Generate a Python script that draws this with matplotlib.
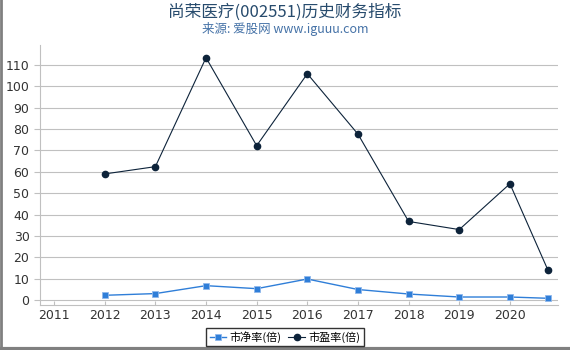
import matplotlib
matplotlib.use("Agg")
import matplotlib.pyplot as plt
from matplotlib.lines import Line2D

cjk = ['Noto Sans CJK SC', 'DejaVu Sans']
plt.rcParams['font.family'] = ['DejaVu Sans']

years = [2012, 2013, 2014, 2015, 2016, 2017, 2018, 2019, 2020, 2020.75]
pb = [2.3, 3.1, 6.8, 5.4, 9.9, 5.0, 2.9, 1.5, 1.5, 0.9]
pe = [59.0, 62.4, 113.3, 72.2, 105.8, 77.6, 36.8, 33.0, 54.4, 14.1]
xticks = [2011, 2012, 2013, 2014, 2015, 2016, 2017, 2018, 2019, 2020]
yticks = list(range(0, 111, 10))

fig = plt.figure(figsize=(5.7, 3.5), dpi=100)
ax = fig.add_axes([0.07, 0.13, 0.909, 0.74])

ax.plot(years, pb, color="#2f7ed8", lw=1, marker="s", ms=4.5,
        markeredgecolor="#8fb8ec", markeredgewidth=0.6, label="市净率(倍)")
ax.plot(years, pe, color="#0d233a", lw=0.8, marker="o", ms=4.5,
        label="市盈率(倍)")

ax.set_xlim(2010.72, 2020.95)
ax.set_ylim(-2, 119)
ax.set_xticks(xticks)
ax.set_yticks(yticks)
ax.yaxis.grid(True, color="#c0c0c0", lw=0.8)
ax.set_axisbelow(True)
for s in ["top", "right"]:
    ax.spines[s].set_visible(False)
for s in ["left", "bottom"]:
    ax.spines[s].set_color("#c0c0c0")
ax.tick_params(colors="#c0c0c0", labelcolor="#333333", labelsize=9, length=4)
ax.tick_params(axis="x", direction="in", length=3, pad=3)

fig.text(0.5, 0.965, "尚荣医疗(002551)历史财务指标", ha="center", va="center",
         fontsize=12, color="#274b6d", family=cjk)
fig.text(0.5, 0.918, "来源: 爱股网 www.iguuu.com", ha="center", va="center",
         fontsize=9, color="#4572a7", family=cjk)

leg = fig.legend(loc="lower center", bbox_to_anchor=(0.5, -0.005), ncol=2,
                 frameon=True, fancybox=False, handlelength=1.5,
                 handletextpad=0.3, columnspacing=0.6, borderpad=0.3,
                 prop={"family": cjk, "size": 8})
leg.get_frame().set_edgecolor("black")
leg.get_frame().set_linewidth(1)

fig.add_artist(Line2D([0.002, 0.002], [0, 1], transform=fig.transFigure,
                      color="#808080", lw=2))
fig.add_artist(Line2D([0, 1], [0.004, 0.004], transform=fig.transFigure,
                      color="#808080", lw=3))

fig.savefig("out.png", dpi=100)
